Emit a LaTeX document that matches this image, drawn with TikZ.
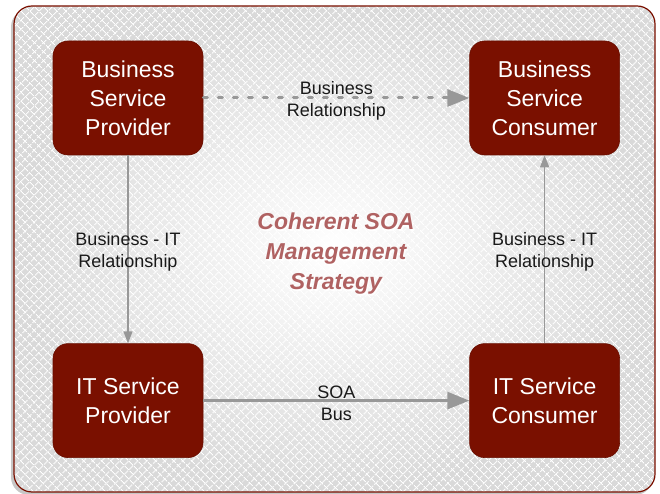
\documentclass[tikz,border=0pt]{standalone}
\usepackage{fontspec}
\setmainfont{Liberation Sans}
\usepackage{tikz}
\usetikzlibrary{positioning}
\usetikzlibrary{arrows.meta}
\usetikzlibrary{patterns.meta}
\usepackage{xcolor}
\definecolor{boxred}{RGB}{122,16,0}
\definecolor{linkgray}{RGB}{152,152,152}
\definecolor{strategy}{RGB}{176,98,98}
\tikzset{
    svc_box/.style={rectangle, rounded corners=15pt, fill=boxred, draw=boxred!85!black, line width=0.6pt,
        minimum width=150pt, minimum height=114pt, align=center, text=white, font=\fontsize{23}{29}\selectfont},
    rel_label/.style={align=center, text=black!90, yshift=-2.5pt, font=\fontsize{18}{22}\selectfont},
    strategy_text/.style={align=center, text=strategy, font=\fontsize{23}{30}\selectfont\bfseries\itshape},
    link_thin/.style={draw=linkgray, line width=1.5pt, -{Triangle[length=12pt,width=9pt]}},
    link_thick/.style={draw=linkgray, line width=3pt, -{Triangle[length=22pt,width=17pt]}},
    link_dashed/.style={link_thick, dash pattern=on 4pt off 11pt, line cap=round},
    frame_shape/.style={rounded corners=18pt}
}

\begin{document}
\begin{tikzpicture}[x=1pt, y=1pt]
    \useasboundingbox (0,0) rectangle (660,494);
    % background frame
    \fill[frame_shape, black, opacity=0.22] (11,-1) rectangle (653,485);
    \shade[frame_shape, inner color=white, outer color=black!15] (14,2) rectangle (655,488);
    \fill[frame_shape, pattern={Lines[angle=45, distance=6.5pt, line width=0.9pt]}, pattern color=white] (14,2) rectangle (655,488);
    \fill[frame_shape, pattern={Lines[angle=-45, distance=6.5pt, line width=0.9pt]}, pattern color=white] (14,2) rectangle (655,488);
    \draw[frame_shape, boxred, line width=1.2pt] (14,2) rectangle (655,488);

    % services
    \node[svc_box] (bsp) at (128,396) {Business\\Service\\Provider};
    \node[svc_box, right=266pt of bsp] (bsc) {Business\\Service\\Consumer};
    \node[svc_box, below=188pt of bsp] (itp) {IT Service\\Provider};
    \node[svc_box, below=188pt of bsc] (itc) {IT Service\\Consumer};

    % strategy
    \node[strategy_text, text=white] (strategy_shadow) at (337.2,238.8) {Coherent SOA\\Management\\Strategy};
    \node[strategy_text] (strategy) at (336,240) {Coherent SOA\\Management\\Strategy};

    % relationships
    \draw[link_dashed] (bsp) -- node[rel_label]{Business\\Relationship} (bsc);
    \draw[link_thin] (bsp) -- node[rel_label]{Business - IT\\Relationship} (itp);
    \draw[link_thick] (itp) -- node[rel_label]{SOA\\Bus} (itc);
    \draw[link_thin] (itc) -- node[rel_label]{Business - IT\\Relationship} (bsc);
\end{tikzpicture}
\end{document}
